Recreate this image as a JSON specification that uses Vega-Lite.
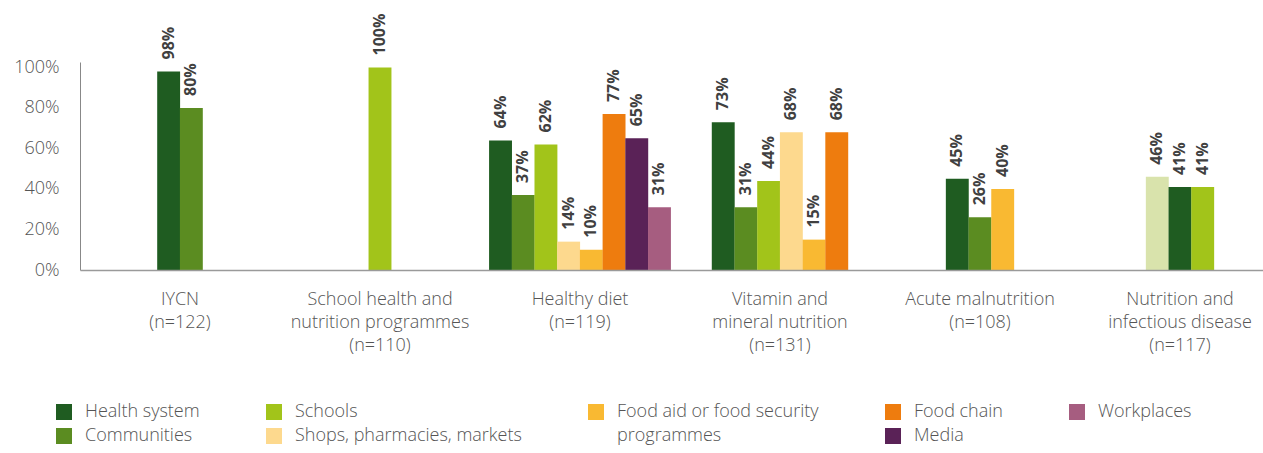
{
  "$schema": "https://vega.github.io/schema/vega-lite/v6.json",
  "width": 1200,
  "height": 208,
  "autosize": {"type": "none"},
  "padding": {"left": 80, "top": 62, "right": -17, "bottom": 183},
  "background": "white",
  "config": {"view": {"stroke": null}, "font": "Open Sans"},
  "data": {
    "values": [
      {"group": "IYCN\n(n=122)", "series": "Health system", "value": 0.98},
      {"group": "IYCN\n(n=122)", "series": "Communities", "value": 0.80},
      {"group": "School health and\nnutrition programmes\n(n=110)", "series": "Schools", "value": 1.00},
      {"group": "Healthy diet\n(n=119)", "series": "Health system", "value": 0.64},
      {"group": "Healthy diet\n(n=119)", "series": "Communities", "value": 0.37},
      {"group": "Healthy diet\n(n=119)", "series": "Schools", "value": 0.62},
      {"group": "Healthy diet\n(n=119)", "series": "Shops, pharmacies, markets", "value": 0.14},
      {"group": "Healthy diet\n(n=119)", "series": "Food aid or food security programmes", "value": 0.10},
      {"group": "Healthy diet\n(n=119)", "series": "Food chain", "value": 0.77},
      {"group": "Healthy diet\n(n=119)", "series": "Media", "value": 0.65},
      {"group": "Healthy diet\n(n=119)", "series": "Workplaces", "value": 0.31},
      {"group": "Vitamin and\nmineral nutrition\n(n=131)", "series": "Health system", "value": 0.73},
      {"group": "Vitamin and\nmineral nutrition\n(n=131)", "series": "Communities", "value": 0.31},
      {"group": "Vitamin and\nmineral nutrition\n(n=131)", "series": "Schools", "value": 0.44},
      {"group": "Vitamin and\nmineral nutrition\n(n=131)", "series": "Shops, pharmacies, markets", "value": 0.68},
      {"group": "Vitamin and\nmineral nutrition\n(n=131)", "series": "Food aid or food security programmes", "value": 0.15},
      {"group": "Vitamin and\nmineral nutrition\n(n=131)", "series": "Food chain", "value": 0.68},
      {"group": "Acute malnutrition\n(n=108)", "series": "Health system", "value": 0.45},
      {"group": "Acute malnutrition\n(n=108)", "series": "Communities", "value": 0.26},
      {"group": "Acute malnutrition\n(n=108)", "series": "Food aid or food security programmes", "value": 0.40},
      {"group": "Nutrition and\ninfectious disease\n(n=117)", "series": "Other", "value": 0.46},
      {"group": "Nutrition and\ninfectious disease\n(n=117)", "series": "Health system", "value": 0.41},
      {"group": "Nutrition and\ninfectious disease\n(n=117)", "series": "Schools", "value": 0.41}
    ]
  },
  "transform": [
    {"window": [{"op": "row_number", "as": "rn"}], "groupby": ["group"]},
    {"joinaggregate": [{"op": "count", "as": "n"}], "groupby": ["group"]},
    {"calculate": "7 - datum.n + 2 * datum.rn", "as": "slot"}
  ],
  "encoding": {
    "x": {
      "field": "group",
      "type": "nominal",
      "sort": null,
      "scale": {"paddingInner": 0.035, "paddingOuter": 0.0175},
      "axis": {
        "title": null,
        "labelAngle": 0,
        "ticks": false,
        "domainColor": "#9a9a9a",
        "domainWidth": 1.5,
        "labelFontSize": 18,
        "labelFontWeight": 300,
        "labelColor": "#555555",
        "labelLineHeight": 23,
        "labelPadding": 20,
        "labelLimit": 400,
        "labelExpr": "split(datum.label, '\\n')",
        "zindex": 1
      }
    },
    "xOffset": {
      "field": "slot",
      "type": "ordinal",
      "scale": {"domain": [0, 1, 2, 3, 4, 5, 6, 7, 8, 9, 10, 11, 12, 13, 14, 15, 16], "paddingInner": 0, "paddingOuter": 0}
    },
    "y": {
      "field": "value",
      "type": "quantitative",
      "scale": {"domain": [0, 1.027], "nice": false},
      "axis": {
        "title": null,
        "values": [0, 0.2, 0.4, 0.6, 0.8, 1],
        "format": ".0%",
        "ticks": false,
        "grid": false,
        "domainColor": "#888888",
        "domainWidth": 1,
        "labelFontSize": 18,
        "labelFontWeight": 300,
        "labelColor": "#555555",
        "labelPadding": 21
      }
    }
  },
  "layer": [
    {
      "mark": {"type": "bar", "width": 22.9},
      "encoding": {
        "color": {
          "field": "series",
          "type": "nominal",
          "scale": {
            "domain": ["Health system", "Communities", "Schools", "Shops, pharmacies, markets", "Food aid or food security programmes", "Food chain", "Media", "Workplaces", "Other", "programmes"],
            "range": ["#1f5c21", "#5b8c21", "#a2c41a", "#fdd98e", "#f9b932", "#ee7c0e", "#5a2257", "#a65d80", "#d9e3ac", "rgba(255,255,255,0)"]
          },
          "legend": {
            "title": null,
            "orient": "none",
            "legendX": -25,
            "legendY": 341,
            "direction": "horizontal",
            "columns": 5,
            "values": ["Health system", "Schools", "Food aid or food security programmes", "Food chain", "Workplaces", "Communities", "Shops, pharmacies, markets", "programmes", "Media"],
            "labelExpr": "datum.label == 'Food aid or food security programmes' ? 'Food aid or food security' : datum.label",
            "symbolType": "square",
            "symbolSize": 256,
            "symbolStrokeWidth": 0,
            "labelFontSize": 18,
            "labelFontWeight": 300,
            "labelColor": "#555555",
            "labelOffset": 12,
            "labelLimit": 400,
            "columnPadding": 65,
            "rowPadding": 6
          }
        }
      }
    },
    {
      "mark": {
        "type": "text",
        "angle": 270,
        "align": "left",
        "baseline": "middle",
        "dx": 12,
        "fontSize": 16,
        "fontWeight": "bold",
        "color": "#404040"
      },
      "encoding": {
        "text": {"field": "value", "type": "quantitative", "format": ".0%"}
      }
    }
  ]
}
